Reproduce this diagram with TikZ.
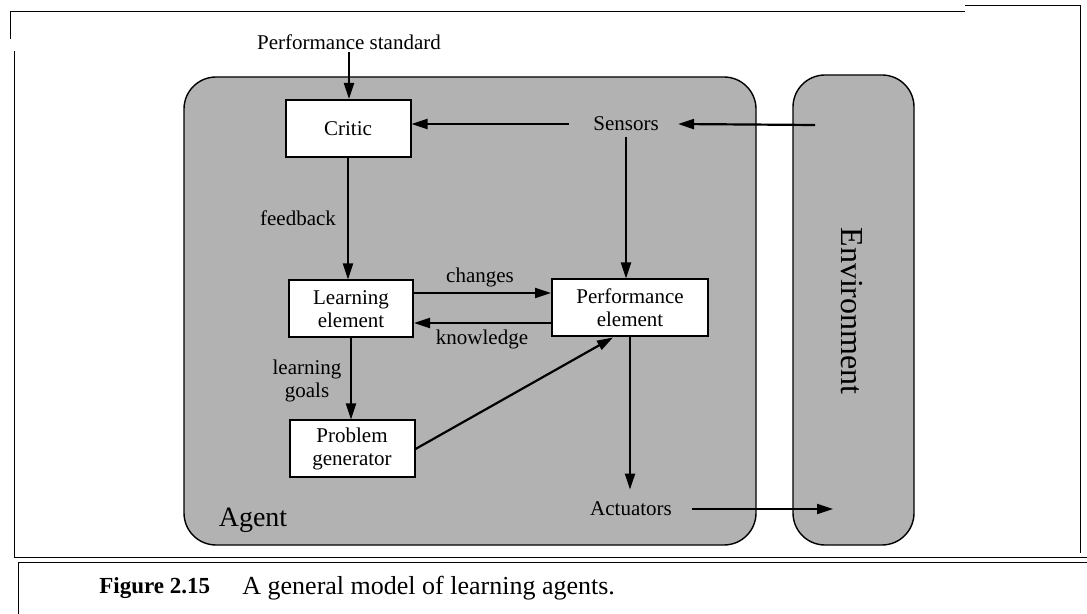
\documentclass[tikz,border=0pt]{standalone}
\usepackage{fontspec}
\setmainfont{Liberation Serif}
\usetikzlibrary{arrows,arrows.meta,positioning,calc}

\begin{document}
\begin{tikzpicture}[x=0.5pt, y=-0.5pt,
    font=\fontsize{10.5}{11.5}\selectfont,
    every node/.style={inner sep=1pt},
    elem/.style={draw, line width=1pt, fill=white, align=center,
        minimum height=28.5pt, inner sep=2pt},
    region/.style={draw, line width=0.7pt, fill=black!30, rounded corners=16pt},
    conn/.style={line width=1.1pt, -{Triangle[length=8pt,width=5pt]}}]
    \useasboundingbox (0,0) rectangle (1087,614);

    % page frame
    \draw (10,39) -- (10,11) -- (965,11);
    \draw (965,5) -- (1080,5) -- (1080,553);
    \draw (14,51) -- (14,557) -- (1087,557);
    \draw (18,614) -- (18,562) -- (1087,562);

    % agent and environment
    \draw[region] (184,77) rectangle (756,545);
    \draw[region] (793,75) rectangle (914,545);

    \node (perfstd) at (349,42) {Performance standard};
    \node[elem, minimum width=62.5pt] (critic) at (348,128.5) {Critic};
    \node[elem, minimum width=62pt] (learn) at (351,309) {Learning\\element};
    \node[elem, minimum width=62.5pt] (probgen) at (352,449) {Problem\\generator};
    \node[elem, minimum width=78pt] (perf) at (630,308) {Performance\\element};
    \node (sensors) at (626,124) {Sensors};
    \node (actuators) at (631,509) {Actuators};
    \node[rotate=-90, font=\fontsize{16}{18}\selectfont] (env) at (852,311) {Environment};
    \node[font=\fontsize{14}{16}\selectfont] (agent) at (253,520) {Agent};
    \coordinate (envin) at (815,125);
    \coordinate (envout) at (833,509);

    % labels
    \node (feedback) at (298,218) {feedback};
    \node (changes) at (480,277) {changes};
    \node (knowledge) at (482,339) {knowledge};
    \node[align=center] (goals) at (307,381) {learning\\goals};

    \draw[conn] (perfstd.south) -- (perfstd.south |- critic.north);
    \draw[conn] ([xshift=-11pt]sensors.west) -- (critic.east |- sensors);
    \draw[conn] (envin) -- ([xshift=8.5pt]sensors.east);
    \draw[conn] ([yshift=-2pt]sensors.south) -- (sensors.south |- perf.north);
    \draw[conn] (critic.south) -- (critic.south |- learn.north);
    \draw[conn] ([yshift=8pt]learn.east) -- ([yshift=8pt]learn.east -| perf.west);
    \draw[conn] ([yshift=-7.5pt]perf.west) -- ([yshift=-7.5pt]perf.west -| learn.east);
    \draw[conn] (learn.south) -- (learn.south |- probgen.north);
    \draw[conn] (probgen.east) -- ([xshift=-8.5pt]perf.south);
    \draw[conn, shorten >=5pt] (perf.south) -- (perf.south |- actuators.north);
    \draw[conn] ([xshift=9pt]actuators.east) -- (envout);

    % caption
    \node[anchor=west, font=\fontsize{11.5}{13}\selectfont\bfseries] (fignum) at (97,588) {Figure 2.15};
    \node[anchor=west, font=\fontsize{13}{15}\selectfont] (caption) at (240,588) {A general model of learning agents.};
\end{tikzpicture}
\end{document}
